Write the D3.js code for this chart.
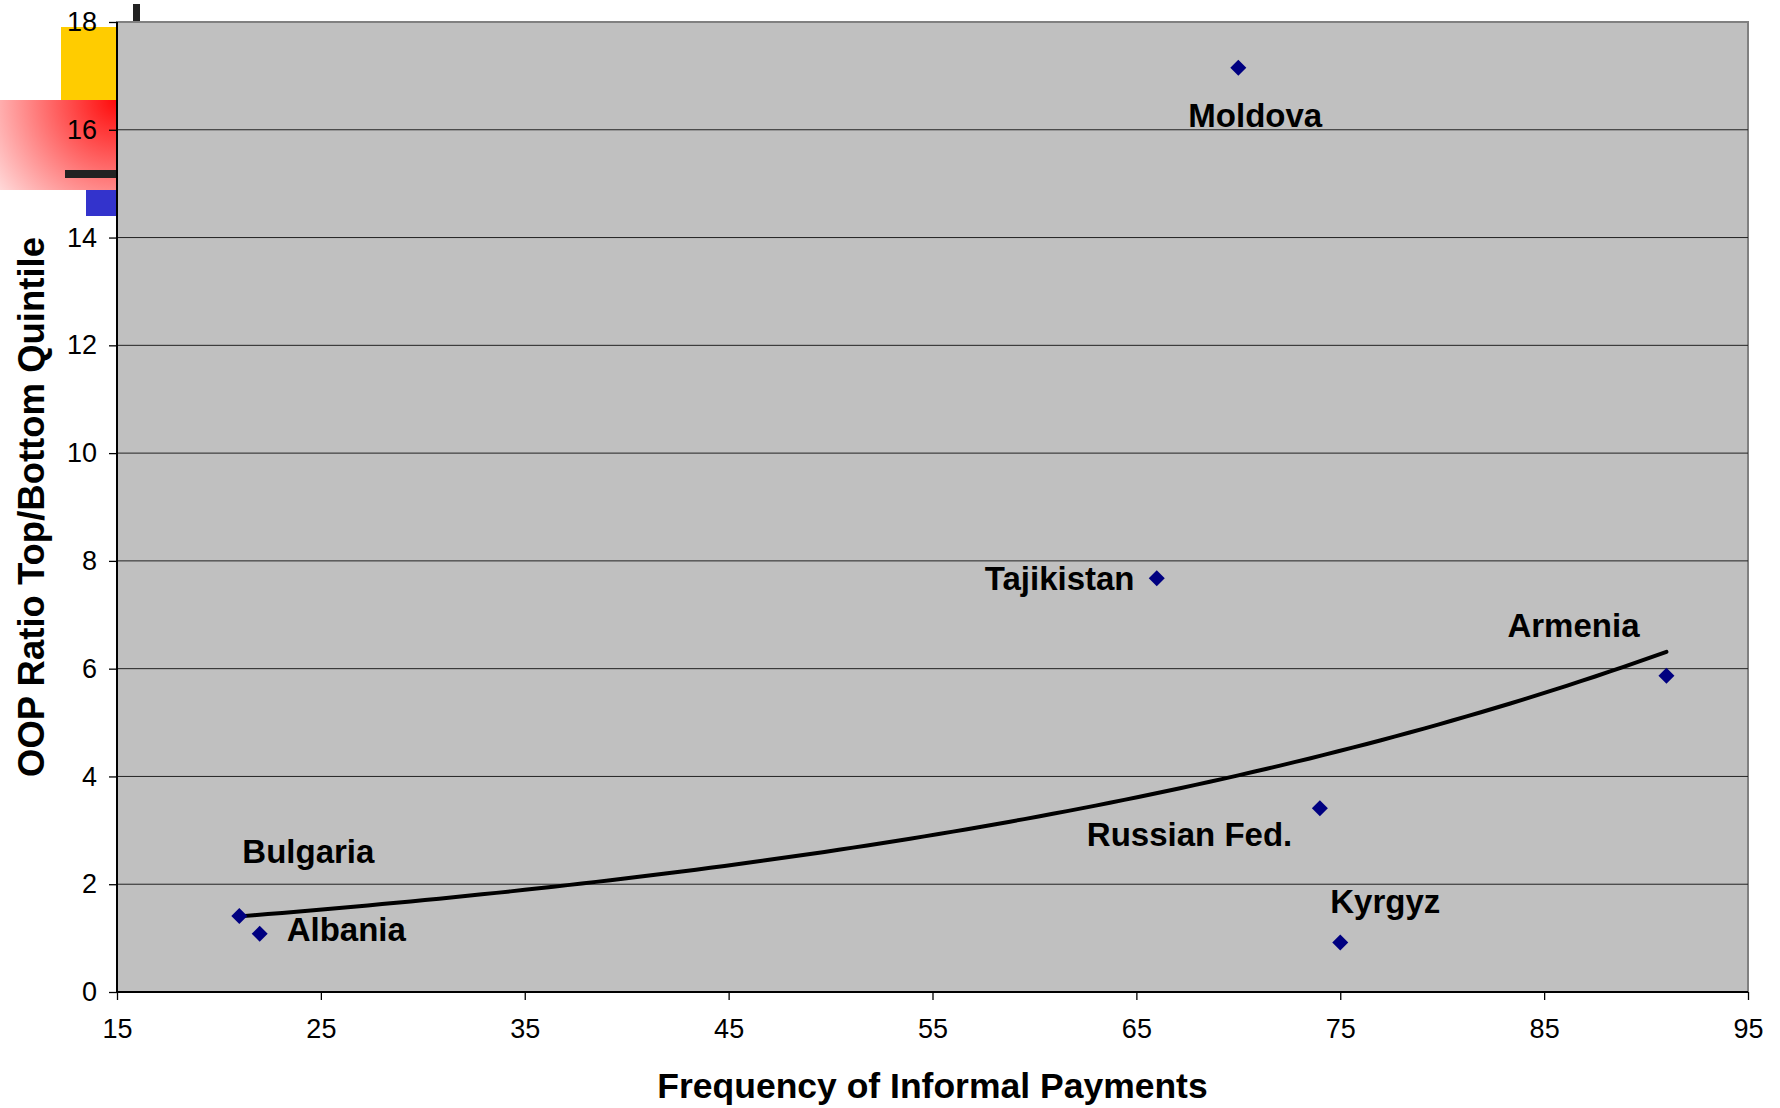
<!DOCTYPE html>
<html>
<head>
<meta charset="utf-8">
<script src="https://cdn.jsdelivr.net/npm/d3@7"></script>
<style>
  html, body { margin: 0; padding: 0; background: #ffffff; }
  svg { display: block; }
  text { font-family: "Liberation Sans", Arial, sans-serif; }
</style>
</head>
<body>
<svg id="chart" width="1780" height="1108"></svg>
<script>
// Countries and their values
const countries = ["Moldova", "Tajikistan", "Armenia", "Russian Fed.", "Kyrgyz", "Bulgaria", "Albania"];
const informalPayments = [70, 66, 91, 74, 75, 21, 22];
const oopRatio = [17.15, 7.68, 5.87, 3.41, 0.92, 1.41, 1.08];

// Axis ticks
const xTicks = [15, 25, 35, 45, 55, 65, 75, 85, 95];
const yTicks = [0, 2, 4, 6, 8, 10, 12, 14, 16, 18];

// Label placement relative to each point (pixels)
const labelOffsets = [
  [-50, 59], [-172, 12], [-159, -39], [-233, 38], [-10, -29], [3, -53], [27, 7]
];

const svg = d3.select("#chart");
const plot = { left: 117, right: 1748, top: 22, bottom: 992 };

const x = d3.scaleLinear().domain([15, 95]).range([plot.left, plot.right]);
const y = d3.scaleLinear().domain([0, 18]).range([plot.bottom, plot.top]);

// Decorative slide ornaments at the top-left corner
const defs = svg.append("defs");
const grad = defs.append("radialGradient")
  .attr("id", "redFade")
  .attr("gradientUnits", "userSpaceOnUse")
  .attr("cx", 117).attr("cy", 100).attr("r", 175);
grad.append("stop").attr("offset", "0%").attr("stop-color", "#ff0a0a");
grad.append("stop").attr("offset", "100%").attr("stop-color", "#ffffff");

svg.append("rect").attr("x", 61).attr("y", 27).attr("width", 56).attr("height", 73).attr("fill", "#ffcc00");
svg.append("rect").attr("x", 0).attr("y", 100).attr("width", 117).attr("height", 90).attr("fill", "url(#redFade)");
svg.append("rect").attr("x", 65).attr("y", 170).attr("width", 52).attr("height", 8).attr("fill", "#222222");
svg.append("rect").attr("x", 86).attr("y", 190).attr("width", 31).attr("height", 26).attr("fill", "#3333cc");
svg.append("rect").attr("x", 133).attr("y", 4).attr("width", 7).attr("height", 17).attr("fill", "#222222");

// Plot area
svg.append("rect")
  .attr("x", plot.left).attr("y", plot.top)
  .attr("width", plot.right - plot.left).attr("height", plot.bottom - plot.top)
  .attr("fill", "#c0c0c0")
  .attr("stroke", "#808080").attr("stroke-width", 2);

// Horizontal gridlines
svg.append("g")
  .selectAll("line")
  .data(yTicks.filter(d => d > 0 && d < 18))
  .join("line")
  .attr("x1", plot.left).attr("x2", plot.right)
  .attr("y1", d => y(d)).attr("y2", d => y(d))
  .attr("stroke", "#222222").attr("stroke-width", 1);

// Axes
const xAxis = svg.append("g")
  .attr("transform", `translate(0,${plot.bottom})`)
  .call(d3.axisBottom(x).tickValues(xTicks).tickSize(8).tickPadding(19).tickFormat(d3.format("d")));
const yAxis = svg.append("g")
  .attr("transform", `translate(${plot.left},0)`)
  .call(d3.axisLeft(y).tickValues(yTicks).tickSize(8).tickPadding(12).tickFormat(d3.format("d")));

[xAxis, yAxis].forEach(g => {
  g.select(".domain").attr("stroke", "#000").attr("stroke-width", 2);
  g.selectAll(".tick line").attr("stroke", "#000").attr("stroke-width", 1.3);
  g.selectAll(".tick text")
    .attr("fill", "#000")
    .style("font-size", "27px")
    .style("font-family", "'Liberation Sans', Arial, sans-serif");
});
xAxis.select(".domain").attr("d", `M${plot.left},0H${plot.right}`);
yAxis.select(".domain").attr("d", `M0,${plot.bottom}V${plot.top}`);

// Exponential trendline fitted by least squares on log(y)
const lx = informalPayments;
const ly = oopRatio.map(Math.log);
const mx = d3.mean(lx), my = d3.mean(ly);
const b = d3.sum(lx.map((v, i) => (v - mx) * (ly[i] - my))) / d3.sum(lx.map(v => (v - mx) ** 2));
const a = Math.exp(my - b * mx);
const xMin = d3.min(informalPayments), xMax = d3.max(informalPayments);
const trendPts = d3.range(0, 101).map(i => {
  const xv = xMin + (xMax - xMin) * i / 100;
  return [xv, a * Math.exp(b * xv)];
});
svg.append("path")
  .datum(trendPts)
  .attr("fill", "none")
  .attr("stroke", "#000")
  .attr("stroke-width", 4)
  .attr("stroke-linecap", "round")
  .attr("d", d3.line().x(d => x(d[0])).y(d => y(d[1])));

// Data points
const points = countries.map((c, i) => ({ name: c, xv: informalPayments[i], yv: oopRatio[i], off: labelOffsets[i] }));
svg.append("g")
  .selectAll("path")
  .data(points)
  .join("path")
  .attr("transform", d => `translate(${x(d.xv)},${y(d.yv)})`)
  .attr("d", "M0,-8L8,0L0,8L-8,0Z")
  .attr("fill", "#000080");

// Country labels
svg.append("g")
  .selectAll("text")
  .data(points)
  .join("text")
  .attr("x", d => x(d.xv) + d.off[0])
  .attr("y", d => y(d.yv) + d.off[1])
  .attr("fill", "#000")
  .style("font-size", "33px")
  .style("font-weight", "bold")
  .text(d => d.name);

// Axis titles
svg.append("text")
  .attr("x", (plot.left + plot.right) / 2)
  .attr("y", 1098)
  .attr("text-anchor", "middle")
  .style("font-size", "35.5px")
  .style("font-weight", "bold")
  .text("Frequency of Informal Payments");

svg.append("text")
  .attr("transform", `translate(44,${(plot.top + plot.bottom) / 2}) rotate(-90)`)
  .attr("text-anchor", "middle")
  .style("font-size", "36.5px")
  .style("font-weight", "bold")
  .text("OOP Ratio Top/Bottom Quintile");
</script>
</body>
</html>
